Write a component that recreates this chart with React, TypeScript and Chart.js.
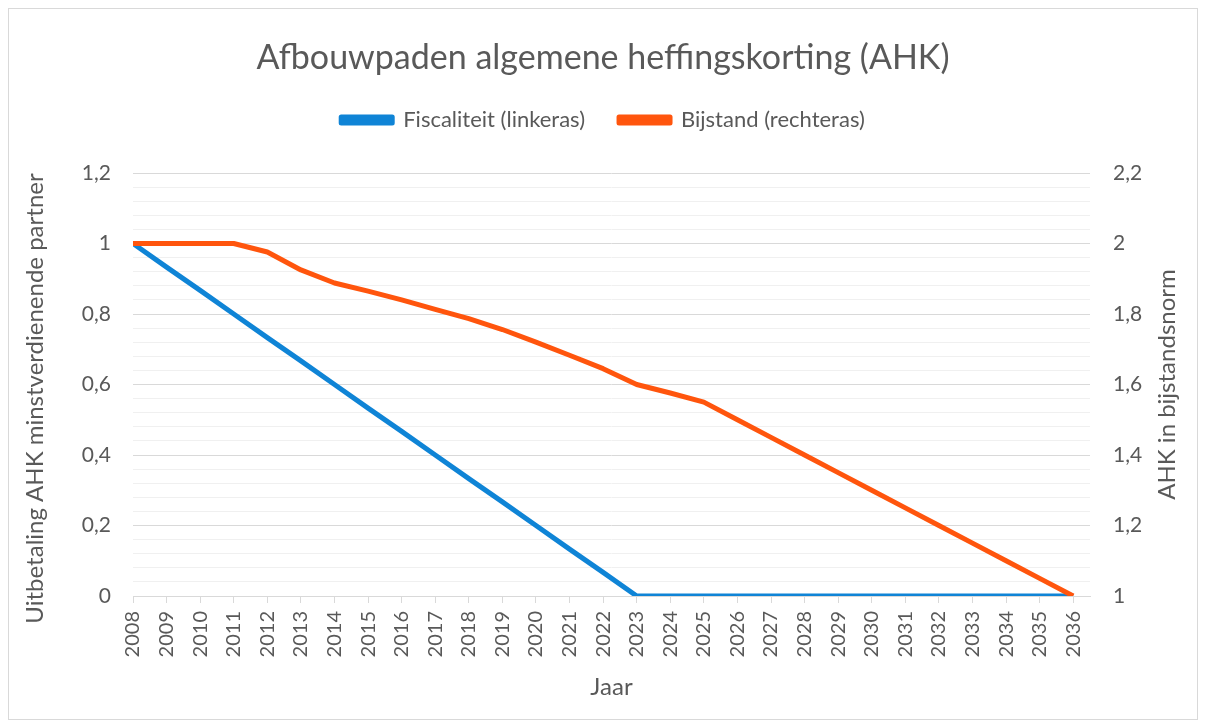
import React, { useEffect, useRef } from "react";
import { Chart, registerables } from "chart.js";

Chart.register(...registerables);

const years: string[] = [
  "2008", "2009", "2010", "2011", "2012", "2013", "2014", "2015", "2016", "2017",
  "2018", "2019", "2020", "2021", "2022", "2023", "2024", "2025", "2026", "2027",
  "2028", "2029", "2030", "2031", "2032", "2033", "2034", "2035", "2036",
];

const fiscaliteit: number[] = [
  1, 0.933, 0.867, 0.8, 0.733, 0.667, 0.6, 0.533, 0.467, 0.4,
  0.333, 0.267, 0.2, 0.133, 0.067, 0, 0, 0, 0, 0,
  0, 0, 0, 0, 0, 0, 0, 0, 0,
];

const bijstand: number[] = [
  2, 2, 2, 2, 1.976, 1.925, 1.888, 1.865, 1.84, 1.813,
  1.787, 1.756, 1.72, 1.683, 1.645, 1.6, 1.576, 1.55, 1.5, 1.45,
  1.4, 1.35, 1.3, 1.25, 1.2, 1.15, 1.1, 1.05, 1,
];

const TITLE = "Afbouwpaden algemene heffingskorting (AHK)";
const LEFT_TITLE = "Uitbetaling AHK minstverdienende partner";
const RIGHT_TITLE = "AHK in bijstandsnorm";
const X_TITLE = "Jaar";

const FONT = "Lato";
const TEXT = "#595959";

const fmt = (v: number) => {
  const k = Math.round(v * 100);
  return k % 20 === 0 ? String(k / 100).replace(".", ",") : "";
};

const sideTitlesPlugin = {
  id: "sideTitles",
  afterDraw(chart: any) {
    const { ctx, chartArea } = chart;
    const mid = (chartArea.top + chartArea.bottom) / 2;
    const draw = (text: string, x: number, y: number, size: number) => {
      ctx.save();
      ctx.translate(x, y);
      ctx.rotate(-Math.PI / 2);
      ctx.textAlign = "center";
      ctx.textBaseline = "middle";
      ctx.fillStyle = TEXT;
      ctx.font = `${size}px ${FONT}`;
      ctx.fillText(text, 0, 0);
      ctx.restore();
    };
    draw(LEFT_TITLE, 26, mid + 14, 24);
    draw(RIGHT_TITLE, 1158, mid, 24);
  },
};

export default function App() {
  const ref = useRef<HTMLCanvasElement>(null);

  useEffect(() => {
    if (!ref.current) return;
    const chart = new Chart(ref.current, {
      type: "line",
      data: {
        datasets: [
          {
            label: "Fiscaliteit (linkeras)",
            data: fiscaliteit.map((v, i) => ({ x: i, y: v })),
            borderColor: "#0f84d6",
            backgroundColor: "#0f84d6",
            borderWidth: 5,
            pointRadius: 0,
            yAxisID: "y",
            order: 1,
            borderJoinStyle: "round",
          },
          {
            label: "Bijstand (rechteras)",
            data: bijstand.map((v, i) => ({ x: i, y: v })),
            borderColor: "#ff550d",
            backgroundColor: "#ff550d",
            borderWidth: 5,
            pointRadius: 0,
            yAxisID: "y1",
            order: 0,
            borderJoinStyle: "round",
          },
        ],
      },
      options: {
        animation: false,
        responsive: false,
        layout: { padding: 0 },
        plugins: {
          title: {
            display: true,
            text: TITLE,
            color: TEXT,
            font: { family: FONT, size: 34, weight: "normal", lineHeight: 1.0 },
            padding: { top: 32, bottom: 0 },
          },
          subtitle: {
            display: true,
            text: "",
            weight: 500,
            font: { size: 10 },
            padding: { top: 20, bottom: 0 },
          } as any,
          legend: {
            display: true,
            labels: {
              color: TEXT,
              font: { family: FONT, size: 22 },
              boxWidth: 51,
              boxHeight: 6,
              padding: 34,
              sort: (a: any, b: any) => a.datasetIndex - b.datasetIndex,
            },
          },
          tooltip: { enabled: false },
        },
        scales: {
          x: {
            type: "linear",
            min: 0,
            max: 28.5,
            grid: {
              display: true,
              drawOnChartArea: false,
              drawTicks: true,
              tickLength: 7,
              color: "#d9d9d9",
            },
            border: { display: true, color: "#d9d9d9" },
            ticks: {
              stepSize: 1,
              includeBounds: false,
              autoSkip: false,
              minRotation: 90,
              maxRotation: 90,
              padding: 8,
              color: TEXT,
              font: { family: FONT, size: 20 },
              callback: (v: any) => years[v as number] ?? "",
            },
            title: {
              display: true,
              text: X_TITLE,
              color: TEXT,
              font: { family: FONT, size: 24 },
              padding: { top: 0, bottom: 17 },
            },
            afterFit: (s: any) => {
              s.height = 123;
            },
          },
          y: {
            position: "left",
            min: 0,
            max: 1.2,
            grid: {
              drawTicks: false,
              color: (c: any) =>
                Math.round(c.tick.value * 100) % 20 === 0 ? "#d9d9d9" : "#f0f0f0",
            },
            border: { display: false },
            ticks: {
              stepSize: 0.04,
              autoSkip: false,
              padding: 22,
              color: TEXT,
              font: { family: FONT, size: 21 },
              callback: (v: any) => fmt(v as number),
            },
            afterFit: (s: any) => {
              s.width = 124;
            },
          },
          y1: {
            position: "right",
            min: 1,
            max: 2.2,
            grid: { display: false, drawTicks: false },
            border: { display: false },
            ticks: {
              stepSize: 0.04,
              autoSkip: false,
              padding: 23,
              color: TEXT,
              font: { family: FONT, size: 21 },
              callback: (v: any) => fmt(v as number),
            },
            afterFit: (s: any) => {
              s.width = 107;
            },
          },
        },
      } as any,
      plugins: [sideTitlesPlugin],
    });
    return () => chart.destroy();
  }, []);

  return (
    <div
      style={{
        width: 1190,
        height: 712,
        border: "1px solid #d9d9d9",
        boxSizing: "border-box",
        background: "#fff",
      }}
    >
      <canvas ref={ref} width={1188} height={710} style={{ display: "block" }} />
    </div>
  );
}
